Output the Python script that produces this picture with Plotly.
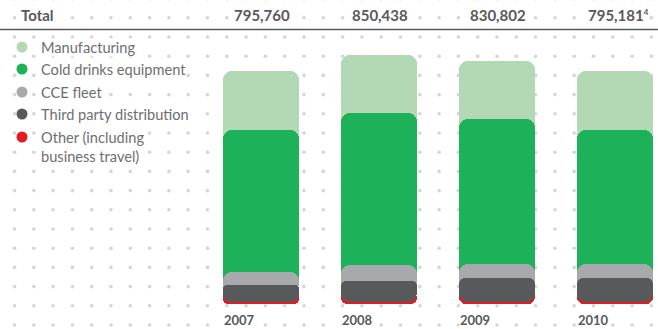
import numpy as np
import plotly.graph_objects as go

# ---- data ----
years = ["2007", "2008", "2009", "2010"]
total_labels = ["795,760", "850,438", "830,802",
                "795,181<sup><span style='font-size:8px'>4</span></sup>"]
other = [6900, 6800, 6800, 6900]
third_party = [58300, 71100, 82100, 82300]
cce_fleet = [44600, 54200, 47900, 48000]
cold_drinks = [483600, 521800, 495800, 456200]
manufacturing = [202400, 196500, 198300, 202400]

legend_names = ["Manufacturing", "Cold drinks equipment", "CCE fleet",
                "Third party distribution", "Other (including<br>business travel)"]
colors = ["#b2d9b4", "#1db15a", "#a7a9ac", "#58595b", "#e31b23"]

W, H = 658, 329
TXT = "#58595b"
LEG = "#6d6e71"
FONT = "Lato"

other_a = np.array(other, float)
third_a = np.array(third_party, float)
cce_a = np.array(cce_fleet, float)
cold_a = np.array(cold_drinks, float)
man_a = np.array(manufacturing, float)

c_other = other_a
c_third = c_other + third_a
c_cce = c_third + cce_a
c_cold = c_cce + cold_a
c_man = c_cold + man_a
mid_dark = c_other + third_a / 2

xs = list(range(len(years)))
BW = 0.644
CR = 9

fig = go.Figure()

# background dot pattern (pixel axes)
gx = 14.5 + 19.3 * np.arange(0, 34)
gy = 325 - 19.2 * np.arange(0, 18)
GX, GY = np.meshgrid(gx, gy)
fig.add_trace(go.Scatter(x=GX.ravel(), y=GY.ravel(), mode="markers",
                         marker=dict(size=3.6, color="#d5d5d5"),
                         hoverinfo="skip", showlegend=False, xaxis="x", yaxis="y"))

# legend markers
leg_y = [47, 69, 92, 114, 137]
fig.add_trace(go.Scatter(x=[22] * 5, y=leg_y, mode="markers",
                         marker=dict(size=11, color=colors),
                         hoverinfo="skip", showlegend=False, xaxis="x", yaxis="y"))

def bar(base, top, color):
    base = np.asarray(base, float)
    top = np.asarray(top, float)
    fig.add_trace(go.Bar(x=xs, y=top - base, base=base, width=BW,
                         marker=dict(color=color, cornerradius=CR, line=dict(width=0)),
                         showlegend=False, hoverinfo="skip",
                         xaxis="x2", yaxis="y2"))

# back to front
bar(mid_dark, c_man, colors[0])
bar(mid_dark, c_cold, colors[1])
bar(mid_dark, c_cce, colors[2])
bar(mid_dark, np.zeros(len(xs)), colors[4])      # red, rounded at bottom
bar(mid_dark, c_third, colors[3])               # dark, rounded at top
bar(c_third, c_other, colors[3])                # dark, rounded at bottom

ann = []
# legend texts
for i, name in enumerate(legend_names):
    y = leg_y[i] if i < 4 else 147
    ann.append(dict(x=40, y=y, xref="x", yref="y", text=name, showarrow=False,
                    xanchor="left", yanchor="middle", align="left",
                    bgcolor="white", borderpad=0,
                    font=dict(family=FONT, size=14.6, color=LEG)))
# totals header
ann.append(dict(x=20, y=15, xref="x", yref="y", text="Total", showarrow=False,
                xanchor="left", yanchor="middle", bgcolor="white", borderpad=0,
                font=dict(family=FONT, size=15, color=TXT, weight="bold")))
for i, lab in enumerate(total_labels):
    ann.append(dict(x=xs[i], y=15, xref="x2", yref="y", xshift=-28, text=lab,
                    showarrow=False, xanchor="left", yanchor="middle",
                    bgcolor="white", borderpad=0,
                    font=dict(family=FONT, size=15, color=TXT, weight="bold")))
# year labels
for i, yr in enumerate(years):
    ann.append(dict(x=xs[i], y=320, xref="x2", yref="y", xshift=-38, text=yr,
                    showarrow=False, xanchor="left", yanchor="middle",
                    bgcolor="white", borderpad=0,
                    font=dict(family=FONT, size=13, color=TXT, weight="bold")))

shapes = [dict(type="line", xref="x", yref="y", x0=0, x1=W, y0=29.5, y1=29.5,
               line=dict(color=TXT, width=1.5))]

SCALE = 3420.0
fig.update_layout(
    width=W, height=H, margin=dict(l=0, r=0, t=0, b=0, pad=0),
    paper_bgcolor="white", plot_bgcolor="white",
    barmode="overlay", bargap=0,
    xaxis=dict(range=[0, W], visible=False, fixedrange=True),
    yaxis=dict(range=[H, 0], visible=False, fixedrange=True),
    xaxis2=dict(range=[-261 / 118, (W - 261) / 118], visible=False,
                overlaying="x", fixedrange=True),
    yaxis2=dict(range=[-(H - 304) * SCALE, 304 * SCALE], visible=False,
                overlaying="y", fixedrange=True),
    annotations=ann, shapes=shapes, showlegend=False,
)
fig.write_html("out.html")
